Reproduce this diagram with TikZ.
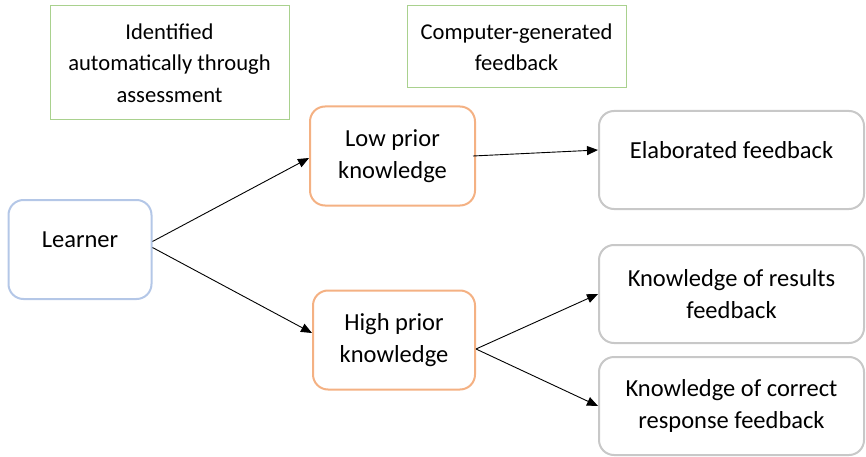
\documentclass[tikz,border=0pt]{standalone}
\usepackage{fontspec}
\setmainfont{Carlito}
\usetikzlibrary{
	arrows.meta,
	calc,
	positioning,
	shapes.geometric
}
\definecolor{verde}{RGB}{169,209,142}
\definecolor{naranja}{RGB}{244,177,131}
\definecolor{azul}{RGB}{180,199,231}
\definecolor{gris}{RGB}{200,200,200}

\begin{document}
\begin{tikzpicture}[x=1pt, y=-1pt,
	every node/.style={font=\fontsize{24.5}{32}\selectfont, align=center, inner sep=0pt},
	nota/.style={draw=verde, line width=1pt, minimum height=82pt, font=\fontsize{22.6}{31.5}\selectfont},
	caja/.style={rounded corners=15pt, line width=2pt, minimum height=99pt},
	arriba/.style={text depth=20pt}, %texto pegado arriba
	flecha/.style={-{Triangle[length=11pt,width=9pt]}, line width=0.9pt}]
\useasboundingbox (0,0) rectangle (866,457);

\node (ident) [nota, minimum width=239pt, minimum height=114pt] at (169.5,63)
	{Identified\\ automatically through\\ assessment};
\node (compgen) [nota, minimum width=219pt] at (516.5,47) {Computer-generated\\ feedback};

\node (learner) [caja, arriba, draw=azul, minimum width=143pt] at (80,249.5) {Learner};
\node (low) [caja, draw=naranja, minimum width=165pt] at (392.5,156) {Low prior\\ knowledge};
\node (high) [caja, draw=naranja, minimum width=162pt] at (394,340) {High prior\\ knowledge};

\node (elab) [caja, arriba, draw=gris, minimum width=265pt, minimum height=98pt] at (731.5,160) {Elaborated feedback};
\node (kr) [caja, draw=gris, minimum width=265pt, minimum height=98pt] at (731.5,294) {Knowledge of results\\ feedback};
\node (kcr) [caja, draw=gris, minimum width=265pt, minimum height=98pt] at (731.5,406) {Knowledge of correct\\ response feedback};

\coordinate (fork) at ([yshift=-9pt]high.east);

\path[flecha] ([yshift=8pt]learner.east) edge ([yshift=-2pt]low.west)
	([yshift=2pt]learner.east) edge ([yshift=7pt]high.west)
	([xshift=-3pt]low.east) edge ([yshift=10pt]elab.west)
	(fork) edge (kr.west)
	(fork) edge (kcr.west);
\end{tikzpicture}
\end{document}
